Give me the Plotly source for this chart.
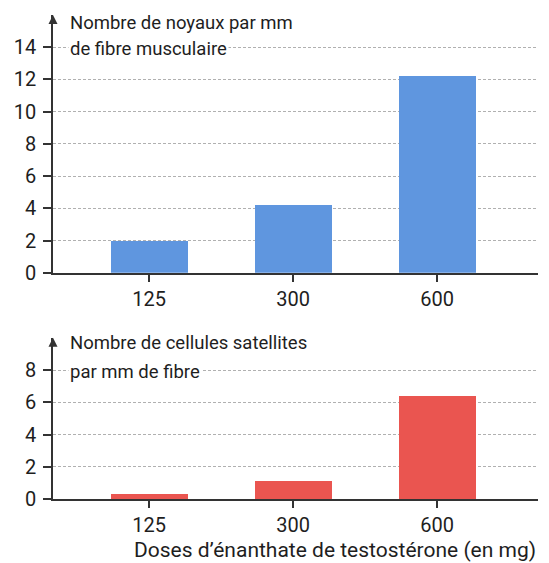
import plotly.graph_objects as go

doses = ["125", "300", "600"]
noyaux = [2.0, 4.2, 12.2]
cellules = [0.3, 1.1, 6.4]
ticks_top = [0, 2, 4, 6, 8, 10, 12, 14]
ticks_bottom = [0, 2, 4, 6, 8]

title_top_1 = "Nombre de noyaux par mm"
title_top_2 = "de fibre musculaire"
title_bottom_1 = "Nombre de cellules satellites"
title_bottom_2 = "par mm de fibre"
title_x = "Doses d\u2019énanthate de testostérone (en mg)"

BLUE = "#5f96df"
RED = "#ea5550"
AX = "#333333"
FONT = "Roboto"
TXT = "#1e1e1e"

fig = go.Figure()
fig.add_trace(go.Bar(x=doses, y=noyaux, marker=dict(color=BLUE, line=dict(width=0)),
                     width=0.535, xaxis="x", yaxis="y", showlegend=False, hoverinfo="x+y"))
fig.add_trace(go.Bar(x=doses, y=cellules, marker=dict(color=RED, line=dict(width=0)),
                     width=0.535, xaxis="x2", yaxis="y2", showlegend=False, hoverinfo="x+y"))

xcommon = dict(type="category", range=[-0.667, 2.70], showline=True, linecolor=AX, linewidth=1.5,
               ticks="outside", ticklen=7, tickwidth=1.5, tickcolor=AX, showgrid=False,
               zeroline=False, tickfont=dict(size=20, color=TXT, family=FONT), fixedrange=True)
ycommon = dict(showline=True, linecolor=AX, linewidth=1.5, ticks="outside", ticklen=8,
               tickwidth=1.5, tickcolor=AX, showgrid=True, gridcolor="#b0b0b0", gridwidth=1,
               griddash="3px,2px", zeroline=False, tickfont=dict(size=20, color=TXT, family=FONT),
               fixedrange=True, ticklabelstandoff=3)


def label(text, y, size=18.5, **kw):
    d = dict(text=text, xref="paper", yref="paper", x=0.031, y=y, xanchor="left",
             yanchor="top", align="left", showarrow=False, bgcolor="white", borderpad=1,
             font=dict(size=size, color=TXT, family=FONT))
    d.update(kw)
    return d


fig.update_layout(
    width=541, height=555,
    margin=dict(l=45, r=11, t=7, b=64),
    paper_bgcolor="white", plot_bgcolor="white",
    font=dict(family=FONT, color=TXT),
    bargap=0,
    xaxis=dict(**xcommon, anchor="y"),
    yaxis=dict(**ycommon, domain=[0.4673, 1.0], range=[0, 16], tickvals=ticks_top, anchor="x"),
    xaxis2=dict(**xcommon, anchor="y2"),
    yaxis2=dict(**ycommon, domain=[0.0, 0.333], range=[0, 10], tickvals=ticks_bottom, anchor="x2"),
    annotations=[
        label(title_top_1, 1.011),
        label(title_top_2, 0.9556),
        label(title_bottom_1, 0.3500),
        label(title_bottom_2, 0.2896),
        dict(text=title_x, xref="paper", yref="paper", x=1.0, y=-0.1047, xanchor="right",
             yanchor="middle", showarrow=False, font=dict(size=21, color=TXT, family=FONT)),
        dict(text="", xref="x domain", yref="y", x=0, y=16, ax=0, ay=10, showarrow=True,
             arrowhead=2, arrowsize=1.2, arrowwidth=1.5, arrowcolor=AX),
        dict(text="", xref="x2 domain", yref="y2", x=0, y=10, ax=0, ay=10, showarrow=True,
             arrowhead=2, arrowsize=1.2, arrowwidth=1.5, arrowcolor=AX),
    ],
)

fig.write_html("out.html")
